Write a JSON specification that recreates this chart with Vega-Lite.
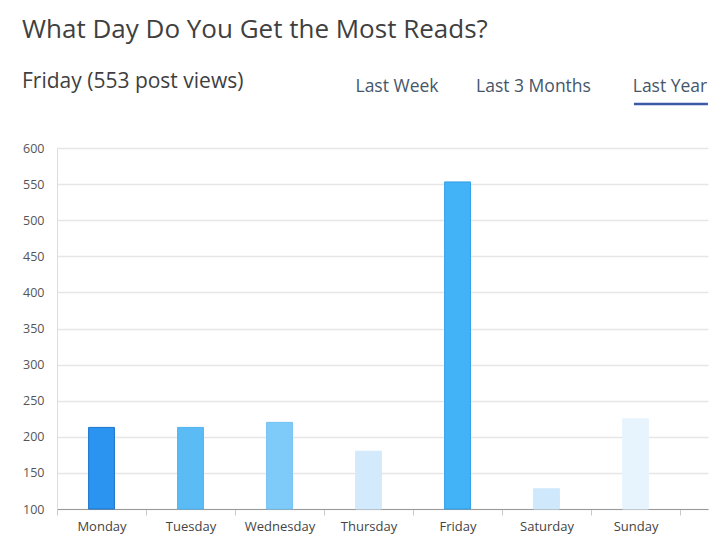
{
  "$schema": "https://vega.github.io/schema/vega-lite/v6.json",
  "background": "white",
  "padding": {"left": 22, "top": 17, "right": 4, "bottom": 4},
  "title": {
    "text": "What Day Do You Get the Most Reads?",
    "anchor": "start",
    "fontSize": 26,
    "font": "Open Sans",
    "fontWeight": "normal",
    "color": "#3f3f3f",
    "offset": 28
  },
  "datasets": {
    "header": [
      {"label": "Friday (553 post views)", "kind": "summary", "selected": false},
      {"label": "Last Week", "kind": "tab", "selected": false},
      {"label": "Last 3 Months", "kind": "tab", "selected": false},
      {"label": "Last Year", "kind": "tab", "selected": true}
    ],
    "reads": [
      {"day": "Monday", "views": 213},
      {"day": "Tuesday", "views": 213},
      {"day": "Wednesday", "views": 220},
      {"day": "Thursday", "views": 180},
      {"day": "Friday", "views": 553},
      {"day": "Saturday", "views": 128},
      {"day": "Sunday", "views": 225}
    ]
  },
  "spacing": 36,
  "vconcat": [
    {
      "width": 651,
      "height": 20,
      "data": {"name": "header"},
      "layer": [
        {
          "transform": [{"filter": "datum.kind === 'summary'"}],
          "mark": {"type": "text", "align": "left", "baseline": "alphabetic", "fontSize": 21, "font": "Open Sans", "color": "#3f3f3f", "dx": -35},
          "encoding": {"text": {"field": "label"}, "x": {"value": 0}}
        },
        {
          "transform": [{"filter": "datum.kind === 'tab'"}],
          "mark": {"type": "text", "align": "center", "baseline": "alphabetic", "fontSize": 17.5, "font": "Open Sans", "color": "#46566a", "dy": 4},
          "encoding": {
            "text": {"field": "label"},
            "x": {"field": "label", "type": "nominal", "axis": null, "sort": null,
              "scale": {"domain": ["Last Week", "Last 3 Months", "Last Year"], "range": [271.75, 681.25], "paddingInner": 0, "paddingOuter": 0}}
          }
        },
        {
          "transform": [{"filter": "datum.selected"}],
          "mark": {"type": "rule", "strokeWidth": 2.5, "color": "#3c5aa8", "yOffset": 16},
          "encoding": {
            "x": {"field": "label", "type": "nominal", "bandPosition": 0.236},
            "x2": {"field": "label", "bandPosition": 0.778}
          }
        }
      ]
    },
    {
      "width": 651,
      "height": 361,
      "data": {"name": "reads"},
      "mark": {"type": "bar", "width": {"band": 0.29}, "strokeWidth": 1},
      "encoding": {
        "x": {
          "field": "day", "type": "nominal", "sort": null, "title": null,
          "scale": {"paddingInner": 0, "paddingOuter": 0.157, "align": 0},
          "axis": {"labelAngle": 0, "labelFontSize": 13, "labelColor": "#444", "labelFont": "Open Sans", "labelPadding": 5,
            "domainColor": "#9a9a9a", "tickColor": "#c8c8c8", "tickSize": 6, "tickBand": "extent"}
        },
        "y": {
          "field": "views", "type": "quantitative", "title": null,
          "scale": {"domain": [100, 600], "zero": false, "nice": false},
          "axis": {"values": [100, 150, 200, 250, 300, 350, 400, 450, 500, 550, 600],
            "labelFontSize": 12.5, "labelColor": "#555", "labelFont": "Open Sans", "labelPadding": 13,
            "ticks": false, "domainColor": "#dddddd", "gridColor": "#e6e6e6", "gridWidth": 1.5}
        },
        "y2": {"datum": 100},
        "fill": {
          "field": "day", "type": "nominal", "legend": null,
          "scale": {"domain": ["Monday", "Tuesday", "Wednesday", "Thursday", "Friday", "Saturday", "Sunday"],
            "range": ["#2b93f0", "#5bbcf5", "#7ecbf9", "#d2eafc", "#43b3f7", "#cfe8fb", "#e8f4fd"]}
        },
        "stroke": {
          "field": "day", "type": "nominal", "legend": null,
          "scale": {"domain": ["Monday", "Tuesday", "Wednesday", "Thursday", "Friday", "Saturday", "Sunday"],
            "range": ["#1c74cc", "#4fb2ef", "#72c3f5", "#d2eafc", "#2f9fe8", "#cfe8fb", "#e8f4fd"]}
        }
      }
    }
  ],
  "config": {"view": {"stroke": null}, "font": "Open Sans"}
}
